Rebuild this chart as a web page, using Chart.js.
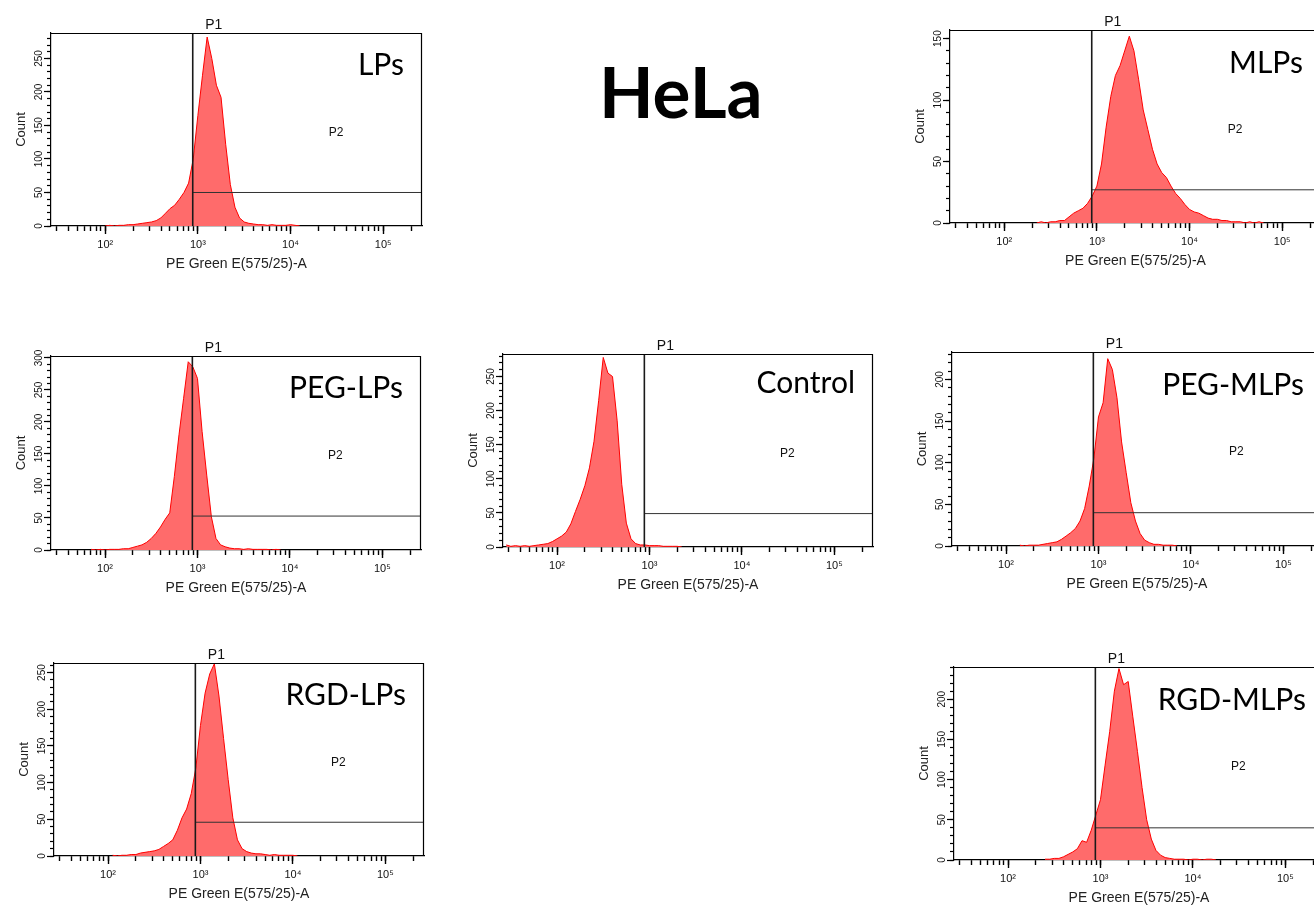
<!DOCTYPE html>
<html><head><meta charset="utf-8">
<script src="https://cdn.jsdelivr.net/npm/chart.js@4/dist/chart.umd.min.js"></script>
<style>
html,body{margin:0;padding:0;width:1314px;height:907px;overflow:hidden;background:#fff;}
canvas{position:absolute;display:block;}
#title{position:absolute;left:599px;top:55px;font-family:Lato,sans-serif;font-weight:700;font-size:71px;line-height:71px;color:#000;white-space:nowrap;}
</style></head><body>
<div id="title">HeLa</div>
<script>
const _ = null;
// histogram bin centres (PE fluorescence), shared by every panel
const X_BINS = [28.2,31.6,35.5,39.8,44.7,50.1,56.2,63.1,70.8,79.4,89.1,
  100,112,126,141,158,178,200,224,251,282,316,355,398,447,501,562,631,708,794,891,
  1000,1122,1259,1413,1585,1778,1995,2239,2512,2818,3162,3548,3981,4467,5012,5623,6310,7079,7943,8913,
  10000,11220,12589,14125,15849,17783,19953,22387,25119,28184,31623,35481,39811,44668,50119,56234,63096];

const COUNTS_LPS = [_,_,_,_,_,_,_,_,_,_,_,
  0,1,0,1,1,2,2,3,4,5,6,8,12,19,26,31,40,50,64,100,
  165,225,282,250,210,192,122,62,28,12,6,4,3,2,2,1,2,1,1,1,
  2,1,0,_,_,_,_,_,_,_,_,_,_,_,_,_,_];
const COUNTS_MLPS = [_,_,_,_,_,_,_,_,_,_,_,
  _,_,_,_,_,_,_,0,1,0,1,1,2,2,5,8,10,12,16,22,
  30,48,78,103,120,128,140,152,140,117,92,76,60,48,41,37,30,24,20,15,
  11,9,8,6,4,3,3,2,2,1,1,1,0,1,0,1,0];
const COUNTS_PEG_LPS = [_,_,_,_,_,_,_,_,1,0,1,
  0,1,1,1,2,2,4,6,8,12,18,26,36,48,58,115,180,237,294,286,
  268,185,117,52,18,8,5,3,2,2,1,2,1,1,1,1,0,1,0,_,
  _,_,_,_,_,_,_,_,_,_,_,_,_,_,_,_,_];
const COUNTS_CONTROL = [3,1,2,1,2,1,2,3,4,5,8,
  12,16,22,34,52,70,90,116,155,215,278,255,250,185,92,35,12,5,3,3,
  2,2,2,1,1,1,1,0,_,_,_,_,_,_,_,_,_,_,_,_,
  _,_,_,_,_,_,_,_,_,_,_,_,_,_,_,_,_];
const COUNTS_PEG_MLPS = [_,_,_,_,_,_,_,_,_,_,_,
  _,_,_,1,0,1,1,1,2,3,4,5,8,12,16,21,30,45,72,105,
  155,172,225,212,178,125,88,52,30,15,7,4,2,2,1,1,1,0,_,_,
  _,_,_,_,_,_,_,_,_,_,_,_,_,_,_,_,_];
const COUNTS_RGD_LPS = [_,_,_,_,_,_,_,_,_,_,_,
  _,1,0,1,1,2,2,4,5,6,7,9,13,17,22,35,52,64,85,120,
  178,222,248,262,218,160,104,52,22,10,6,4,3,3,2,1,2,1,1,1,
  1,0,_,_,_,_,_,_,_,_,_,_,_,_,_,_,_];
const COUNTS_RGD_MLPS = [_,_,_,_,_,_,_,_,_,_,_,
  _,_,_,_,_,_,_,_,1,1,2,2,4,7,10,14,24,22,37,56,
  75,118,160,210,238,218,222,178,135,90,50,26,12,6,3,2,1,1,1,0,
  1,1,0,1,1,0,_,_,_,_,_,_,_,_,_,_,_];

const PANEL_NAMES = ['LPs','MLPs','PEG-LPs','Control','PEG-MLPs','RGD-LPs','RGD-MLPs'];
const PANEL_COUNTS = [COUNTS_LPS,COUNTS_MLPS,COUNTS_PEG_LPS,COUNTS_CONTROL,COUNTS_PEG_MLPS,COUNTS_RGD_LPS,COUNTS_RGD_MLPS];
const Y_MAX = [288,157,303,283,233,263,240];
const P2_LEVEL = [50,27,53,49,40,46,40];
const GATE_P1 = 880;
const X_MIN = 26, X_MAX = 262144;
const P2_LABEL_X = 31000;

const X_TICKS_MINOR = [30,40,50,60,70,80,90,100,200,300,400,500,600,700,800,900,1000,2000,3000,4000,5000,6000,7000,8000,9000,10000,20000,30000,40000,50000,60000,70000,80000,90000,100000,200000];
const X_TICKS_MAJOR = [100,1000,10000,100000];
const X_TICK_LABELS = ['10\u00B2','10\u00B3','10\u2074','10\u2075'];
const Y_TICKS_MINOR = [0,10,20,30,40,50,60,70,80,90,100,110,120,130,140,150,160,170,180,190,200,210,220,230,240,250,260,270,280,290,300];
const Y_TICKS_MAJOR = [0,50,100,150,200,250,300];
const X_TITLE = 'PE Green E(575/25)-A';
const Y_TITLE = 'Count';

// layout (plot box in page pixels)
const BOXES = [
  {l:51,t:33,w:371,h:193,nb:42},
  {l:950,t:30,w:371,h:193,nb:43},
  {l:51,t:356,w:370,h:194,nb:42},
  {l:503,t:354,w:370,h:193,nb:39},
  {l:952,t:352,w:370,h:194,nb:43},
  {l:54,t:663,w:370,h:193,nb:42},
  {l:954,t:667,w:370,h:193,nb:43}
];

Chart.defaults.font.family = '"Liberation Sans", Arial, sans-serif';
Chart.defaults.color = '#111';

function decor(name, nb) {
  return {
    id: 'decor',
    afterDatasetsDraw(chart) {
      const {ctx, chartArea: a} = chart;
      const xs = chart.scales.x;
      ctx.save();
      ctx.strokeStyle = '#000';
      ctx.lineWidth = 1.2;
      ctx.beginPath();
      ctx.moveTo(a.left, a.top + 0.5);
      ctx.lineTo(a.right - 0.5, a.top + 0.5);
      ctx.lineTo(a.right - 0.5, a.bottom);
      ctx.stroke();
      const px = xs.getPixelForValue(GATE_P1);
      ctx.fillStyle = '#111';
      ctx.font = '14px "Liberation Sans"';
      ctx.textAlign = 'center';
      ctx.textBaseline = 'alphabetic';
      ctx.fillText('P1', px + 21, a.top - 4);
      ctx.font = '12px "Liberation Sans"';
      ctx.textBaseline = 'middle';
      ctx.fillText('P2', xs.getPixelForValue(P2_LABEL_X), a.top + 0.515 * (a.bottom - a.top));
      ctx.fillStyle = '#000';
      ctx.font = '30px Lato';
      ctx.textAlign = 'right';
      ctx.textBaseline = 'alphabetic';
      ctx.fillText(name, a.right - 18, a.top + nb);
      ctx.restore();
    }
  };
}

PANEL_NAMES.forEach((name, i) => {
  const b = BOXES[i];
  const cv = document.createElement('canvas');
  const W = b.w + 50, H = b.h + 75;
  cv.width = W; cv.height = H;
  cv.style.left = (b.l - 40) + 'px';
  cv.style.top = (b.t - 25) + 'px';
  cv.style.width = W + 'px'; cv.style.height = H + 'px';
  document.body.appendChild(cv);
  const ymax = Y_MAX[i];
  const counts = PANEL_COUNTS[i];
  const logX = (major) => ({
    type: 'logarithmic', position: 'bottom', min: X_MIN, max: X_MAX,
    weight: major ? 1 : 0,
    afterBuildTicks: s => { s.ticks = (major ? X_TICKS_MAJOR : X_TICKS_MINOR).map(v => ({value: v})); },
    afterFit: s => { s.height = major ? 50 : 0; },
    grid: {drawOnChartArea: false, tickLength: major ? 8 : 5, tickColor: '#000', tickWidth: 1.4},
    border: {display: !major, color: '#000', width: 1.2},
    ticks: major ? {
      display: true, autoSkip: false, maxRotation: 0, minRotation: 0, padding: 4,
      font: {size: 11}, color: '#111',
      callback: v => { const k = X_TICKS_MAJOR.indexOf(v); return k >= 0 ? X_TICK_LABELS[k] : ''; }
    } : {display: false},
    title: major ? {display: true, text: X_TITLE, font: {size: 14}, color: '#222', padding: {top: 0, bottom: 3}} : {display: false}
  });
  const linY = (major) => ({
    type: 'linear', position: 'left', min: 0, max: ymax,
    weight: major ? 1 : 0,
    afterBuildTicks: s => { s.ticks = (major ? Y_TICKS_MAJOR : Y_TICKS_MINOR).filter(v => v <= ymax).map(v => ({value: v})); },
    afterFit: s => { s.width = major ? 40 : 0; },
    grid: {drawOnChartArea: false, tickLength: major ? 7 : 4, tickColor: '#000', tickWidth: 1.2},
    border: {display: !major, color: '#000', width: 1.2},
    ticks: major ? {
      display: true, autoSkip: false, minRotation: 90, maxRotation: 90, crossAlign: 'center', padding: -4,
      font: {size: 10}, color: '#111', callback: v => String(v)
    } : {display: false},
    title: major ? {display: true, text: Y_TITLE, font: {size: 13}, color: '#222', padding: {top: 3, bottom: 0}} : {display: false}
  });
  new Chart(cv, {
    type: 'line',
    data: {
      datasets: [
        {label: 'P1', data: [{x: GATE_P1, y: 0}, {x: GATE_P1, y: ymax}], borderColor: '#1a1a1a', borderWidth: 1.6, pointRadius: 0, fill: false, order: 1},
        {label: 'P2', data: [{x: GATE_P1, y: P2_LEVEL[i]}, {x: X_MAX, y: P2_LEVEL[i]}], borderColor: '#333', borderWidth: 1, pointRadius: 0, fill: false, order: 2},
        {label: name, data: X_BINS.map((x, k) => ({x, y: counts[k]})), borderColor: '#ff0000', borderWidth: 1,
         backgroundColor: '#ff6b6b', fill: 'origin', pointRadius: 0, tension: 0, spanGaps: false, order: 3}
      ]
    },
    options: {
      responsive: false, animation: false, devicePixelRatio: 1,
      layout: {padding: {top: 25, right: 10, bottom: 0, left: 0}},
      plugins: {legend: {display: false}, tooltip: {enabled: false}, title: {display: false}},
      scales: {x: logX(false), xMaj: logX(true), y: linY(false), yMaj: linY(true)}
    },
    plugins: [decor(name, b.nb)]
  });
});
</script>
</body></html>
